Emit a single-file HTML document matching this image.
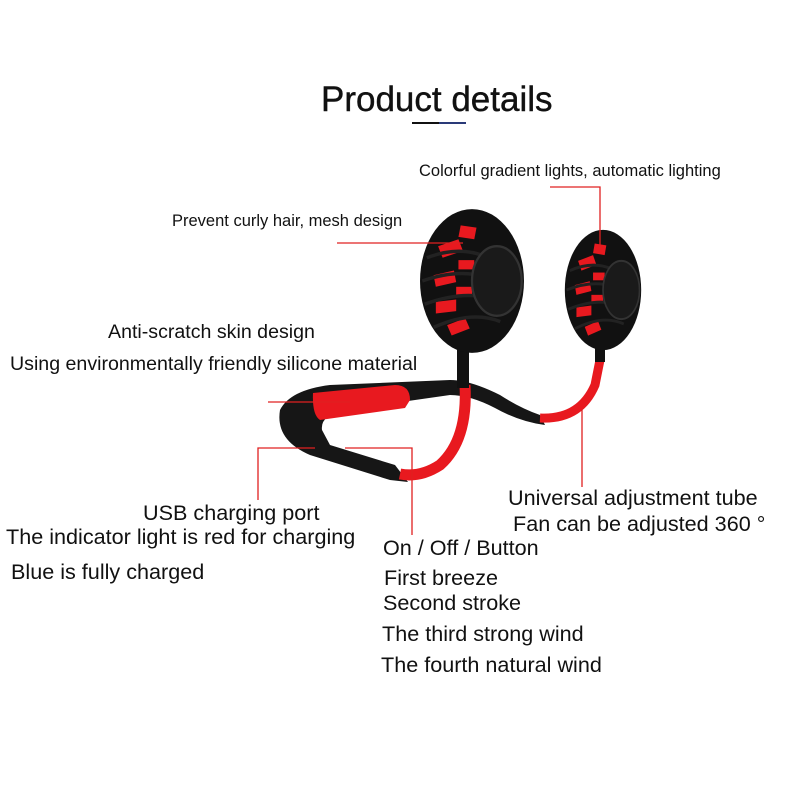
<!DOCTYPE html>
<html><head><meta charset="utf-8"><style>
body{margin:0;width:800px;height:800px;background:#fff;position:relative;overflow:hidden;font-family:"Liberation Sans",Arial,sans-serif;color:#111}
.t{position:absolute;white-space:nowrap}
</style></head><body>
<div class="t" style="left:321px;top:80px;font-size:35px;-webkit-text-stroke:0.4px #111;">Product details</div>
<div style="position:absolute;left:412px;top:122px;width:27px;height:2px;background:#111"></div>
<div style="position:absolute;left:439px;top:122px;width:27px;height:2px;background:#2a3a78"></div>

<svg style="position:absolute;left:0;top:0" width="800" height="800">
<defs>
<g id="fan">
<ellipse cx="0" cy="0" rx="46" ry="62" fill="#111"/>
<g fill="#e8191f">
<path d="M-30,-30 l18,-6 l4,10 l-18,6z"/><path d="M-34,-5 l18,-4 l2,10 l-18,4z"/>
<path d="M-32,18 l18,-2 l0,10 l-18,2z"/><path d="M-22,38 l16,-6 l4,9 l-16,6z"/>
<path d="M-10,-48 l14,2 l-2,10 l-14,-2z"/><path d="M-12,-18 l14,0 l0,8 l-14,0z"/>
<path d="M-14,5 l14,0 l0,8 l-14,0z"/>
</g>
<g stroke="#222" stroke-width="3" fill="none">
<path d="M-40,-20 Q0,-35 30,-10"/><path d="M-44,0 Q0,-15 30,5"/><path d="M-42,20 Q0,5 30,20"/><path d="M-34,40 Q0,25 25,35"/>
</g>
<ellipse cx="22" cy="0" rx="22" ry="30" fill="#1a1a1a" stroke="#333" stroke-width="2"/>
</g>
</defs>
<path d="M280,410 Q290,390 330,385 L450,380 Q470,380 500,395 Q520,408 540,415 L545,425 Q520,422 495,408 Q470,395 450,395 L345,410 Q320,415 322,430 L330,445 L395,465 L408,482 L390,480 L310,455 Q275,440 280,410z" fill="#161616"/>
<path d="M313,393 L395,385 Q410,385 410,400 L405,408 L320,420 Q312,415 313,393z" fill="#e8191f"/>
<path d="M465,385 Q468,440 440,465 Q420,478 400,474" stroke="#e8191f" stroke-width="11" fill="none"/>
<path d="M463,350 L463,388" stroke="#111" stroke-width="12"/>
<path d="M540,418 Q580,420 595,385 L600,360" stroke="#e8191f" stroke-width="9" fill="none"/>
<path d="M600,340 L600,362" stroke="#111" stroke-width="10"/>
<use href="#fan" transform="translate(472,281) scale(1.13,1.16)"/>
<use href="#fan" transform="translate(603,290) scale(0.83,0.97)"/>
<g stroke="#e02020" stroke-width="1.3" fill="none">
<path d="M337,243 H463"/>
<path d="M550,187 H600 V250"/>
<path d="M268,402 H350"/>
<path d="M315,448 H258 V500"/>
<path d="M345,448 H412 V535"/>
<path d="M582,410 V487"/>
</g>
</svg>

<div class="t" style="left:419px;top:162px;font-size:16.5px;">Colorful gradient lights, automatic lighting</div>
<div class="t" style="left:172px;top:212px;font-size:16.5px;">Prevent curly hair, mesh design</div>
<div class="t" style="left:108px;top:321px;font-size:19.6px;">Anti-scratch skin design</div>
<div class="t" style="left:10px;top:353px;font-size:19.6px;">Using environmentally friendly silicone material</div>
<div class="t" style="left:143px;top:500px;font-size:21.6px;">USB charging port</div>
<div class="t" style="left:6px;top:524px;font-size:21.6px;">The indicator light is red for charging</div>
<div class="t" style="left:11px;top:559px;font-size:21.6px;">Blue is fully charged</div>
<div class="t" style="left:508px;top:485px;font-size:21.6px;">Universal adjustment tube</div>
<div class="t" style="left:513px;top:511px;font-size:21.6px;">Fan can be adjusted 360 °</div>
<div class="t" style="left:383px;top:535px;font-size:21.6px;">On / Off / Button</div>
<div class="t" style="left:384px;top:565px;font-size:21.6px;">First breeze</div>
<div class="t" style="left:383px;top:590px;font-size:21.6px;">Second stroke</div>
<div class="t" style="left:382px;top:621px;font-size:21.6px;">The third strong wind</div>
<div class="t" style="left:381px;top:652px;font-size:21.6px;">The fourth natural wind</div>
</body></html>
